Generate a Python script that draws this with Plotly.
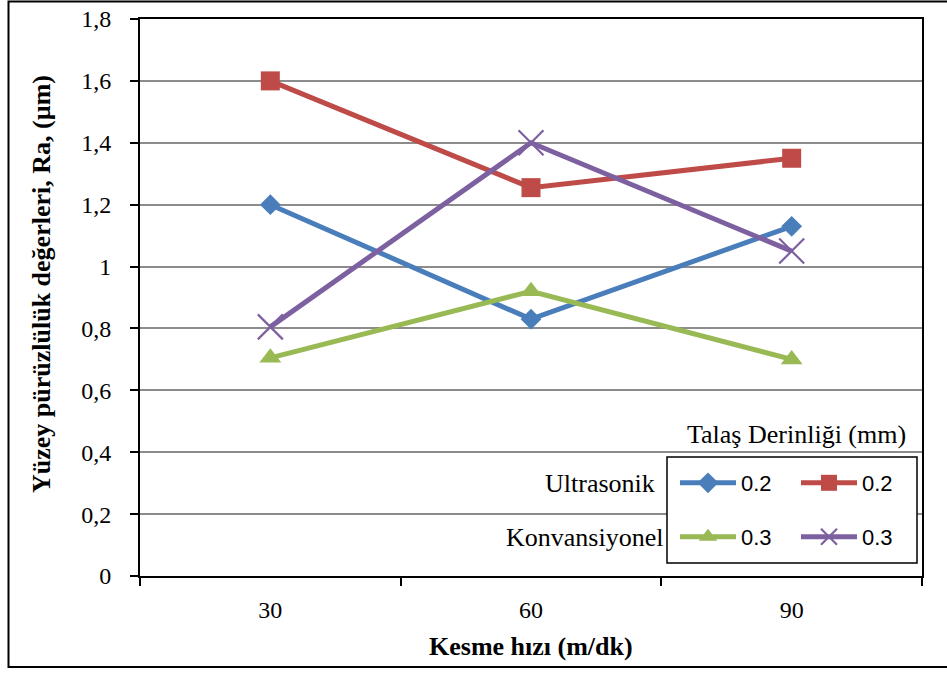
import plotly.graph_objects as go

# Cutting speed categories (m/dk)
speeds = ["30", "60", "90"]

# Surface roughness Ra (µm) for each process / depth of cut
ultra_02 = [1.20, 0.83, 1.13]
ultra_03 = [1.60, 1.255, 1.35]
konv_02 = [0.705, 0.92, 0.70]
konv_03 = [0.805, 1.40, 1.05]

y_ticks = [0, 0.2, 0.4, 0.6, 0.8, 1.0, 1.2, 1.4, 1.6, 1.8]

W, H = 947, 673
L, R, T, B = 140, 25, 19, 97
PW, PH = W - L - R, H - T - B


def px(x):
    return (x - L) / PW


def py(y):
    return (H - B - y) / PH


SERIF = "Liberation Serif, Times New Roman, serif"
SANS = "Liberation Sans, Arial, sans-serif"

fig = go.Figure()

series = [
    (ultra_02, "0.2", "#4A7EBB", dict(symbol="diamond", size=16), "legend"),
    (ultra_03, "0.2", "#BE4B48", dict(symbol="square", size=19), "legend"),
    (konv_02, "0.3", "#98B954", dict(symbol="triangle-up", size=19), "legend2"),
    (konv_03, "0.3", "#7D60A0", dict(symbol="x-thin", size=25,
                                      line=dict(width=2.2, color="#7D60A0")), "legend2"),
]

for vals, name, color, marker, leg in series:
    fig.add_trace(go.Scatter(
        x=speeds, y=vals, name=name, mode="lines+markers",
        line=dict(color=color, width=5),
        marker=dict(color=color, **marker),
        legend=leg,
    ))

legend_common = dict(
    orientation="h", xanchor="left", yanchor="middle",
    bgcolor="rgba(0,0,0,0)", borderwidth=0,
    font=dict(family=SANS, size=22, color="black"),
    entrywidth=50, entrywidthmode="pixels", itemwidth=56,
    traceorder="normal",
)

fig.update_layout(
    width=W, height=H,
    margin=dict(l=L, r=R, t=T, b=B, autoexpand=False),
    paper_bgcolor="white", plot_bgcolor="white",
    separators=",.",
    showlegend=True,
    legend=dict(x=px(675), y=py(483), **legend_common),
    legend2=dict(x=px(675), y=py(537), **legend_common),
    xaxis=dict(
        type="category", range=[-0.5, 2.5],
        showline=True, linecolor="black", linewidth=2, mirror=True,
        ticks="outside", tickson="boundaries", ticklen=8, tickwidth=1.5,
        tickcolor="black", showgrid=False, zeroline=False,
        tickfont=dict(family=SERIF, size=24, color="black"),
        ticklabelstandoff=11,
    ),
    yaxis=dict(
        range=[0, 1.8], tickvals=y_ticks,
        showline=True, linecolor="black", linewidth=2, mirror=True,
        ticks="outside", ticklen=8, tickwidth=1.5, tickcolor="black",
        showgrid=True, gridcolor="#8c8c8c", gridwidth=1.5, zeroline=False,
        tickfont=dict(family=SERIF, size=24, color="black"),
        ticklabelstandoff=14,
    ),
    shapes=[
        # legend frame
        dict(type="rect", xref="paper", yref="paper",
             x0=px(667), x1=px(917), y0=py(563), y1=py(457),
             line=dict(color="black", width=1.5), fillcolor="white",
             layer="above"),
        # chart frame
        dict(type="rect", xref="paper", yref="paper",
             x0=px(8.5), x1=px(952), y0=py(667), y1=py(1.5),
             line=dict(color="black", width=2), fillcolor="rgba(0,0,0,0)",
             layer="above"),
    ],
)

notes = [
    ("<b>Yüzey pürüzlülük değerleri, Ra, (µm)</b>", 41, 284, "center", -90),
    ("<b>Kesme hızı (m/dk)</b>", 531, 646, "center", 0),
    ("Talaş Derinliği (mm)", 908, 434, "right", 0),
    ("Ultrasonik", 657, 483, "right", 0),
    ("Konvansiyonel", 665, 537, "right", 0),
]
for text, x, y, anchor, angle in notes:
    fig.add_annotation(
        text=text, xref="paper", yref="paper", x=px(x), y=py(y),
        xanchor=anchor, yanchor="middle", textangle=angle, showarrow=False,
        font=dict(family=SERIF, size=26, color="black"),
    )

fig.write_html("out.html")
